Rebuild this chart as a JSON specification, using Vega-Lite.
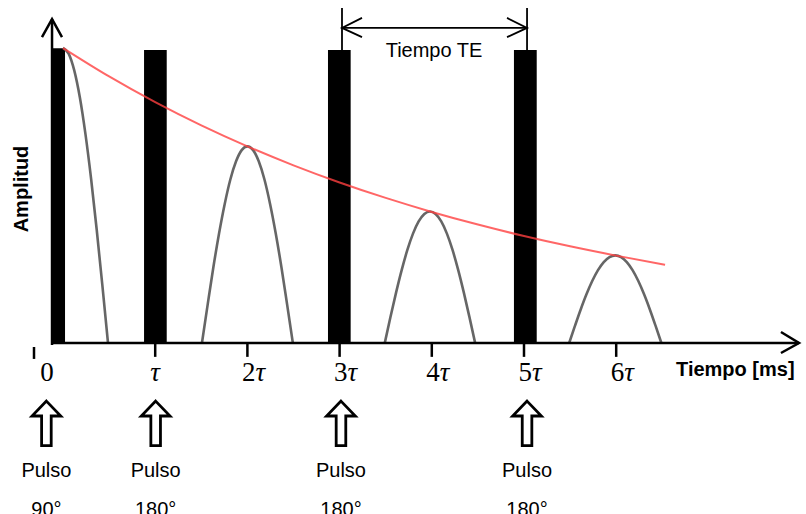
{
  "$schema": "https://vega.github.io/schema/vega-lite/v6.json",
  "width": 806,
  "height": 514,
  "autosize": "none",
  "padding": 0,
  "background": "white",
  "config": {"view": {"stroke": null}},
  "datasets": {
    "pulsos_rf": [
      {"pulso": "90°", "t0": -0.112, "t1": 0.022, "a0": 0, "a": 0.999},
      {"pulso": "180° (1)", "t0": 0.879, "t1": 1.125, "a0": 0, "a": 0.993},
      {"pulso": "180° (2)", "t0": 2.874, "t1": 3.12, "a0": 0, "a": 0.993},
      {"pulso": "180° (3)", "t0": 4.891, "t1": 5.138, "a0": 0, "a": 0.993}
    ],
    "decaimiento": [
      {"t": 0, "a": 1.0}, {"t": 0.5, "a": 0.9036}, {"t": 1, "a": 0.8164},
      {"t": 1.5, "a": 0.7377}, {"t": 2, "a": 0.6666}, {"t": 2.5, "a": 0.6023},
      {"t": 3, "a": 0.5442}, {"t": 3.5, "a": 0.4918}, {"t": 4, "a": 0.4443},
      {"t": 4.5, "a": 0.4015}, {"t": 5, "a": 0.3628}, {"t": 5.5, "a": 0.3278},
      {"t": 6, "a": 0.2962}, {"t": 6.53, "a": 0.2654}
    ],
    "senal": [
      {"grupo": "fid", "t": 0, "a": 1.0},
      {"grupo": "fid", "t": 0.061, "a": 0.981},
      {"grupo": "fid", "t": 0.122, "a": 0.924},
      {"grupo": "fid", "t": 0.183, "a": 0.832},
      {"grupo": "fid", "t": 0.244, "a": 0.707},
      {"grupo": "fid", "t": 0.305, "a": 0.556},
      {"grupo": "fid", "t": 0.366, "a": 0.383},
      {"grupo": "fid", "t": 0.427, "a": 0.195},
      {"grupo": "fid", "t": 0.488, "a": 0},

      {"grupo": "eco 2", "t": 1.507, "a": 0},
      {"grupo": "eco 2", "t": 1.569, "a": 0.1301},
      {"grupo": "eco 2", "t": 1.63, "a": 0.2551},
      {"grupo": "eco 2", "t": 1.692, "a": 0.3704},
      {"grupo": "eco 2", "t": 1.754, "a": 0.4714},
      {"grupo": "eco 2", "t": 1.815, "a": 0.5543},
      {"grupo": "eco 2", "t": 1.877, "a": 0.6159},
      {"grupo": "eco 2", "t": 1.938, "a": 0.6538},
      {"grupo": "eco 2", "t": 2.0, "a": 0.6666},
      {"grupo": "eco 2", "t": 2.062, "a": 0.6538},
      {"grupo": "eco 2", "t": 2.123, "a": 0.6159},
      {"grupo": "eco 2", "t": 2.185, "a": 0.5543},
      {"grupo": "eco 2", "t": 2.246, "a": 0.4714},
      {"grupo": "eco 2", "t": 2.308, "a": 0.3704},
      {"grupo": "eco 2", "t": 2.37, "a": 0.2551},
      {"grupo": "eco 2", "t": 2.431, "a": 0.1301},
      {"grupo": "eco 2", "t": 2.493, "a": 0},

      {"grupo": "eco 4", "t": 3.49, "a": 0},
      {"grupo": "eco 4", "t": 3.551, "a": 0.087},
      {"grupo": "eco 4", "t": 3.6125, "a": 0.1707},
      {"grupo": "eco 4", "t": 3.674, "a": 0.2478},
      {"grupo": "eco 4", "t": 3.735, "a": 0.3154},
      {"grupo": "eco 4", "t": 3.796, "a": 0.3708},
      {"grupo": "eco 4", "t": 3.8575, "a": 0.4121},
      {"grupo": "eco 4", "t": 3.919, "a": 0.4374},
      {"grupo": "eco 4", "t": 3.98, "a": 0.446},
      {"grupo": "eco 4", "t": 4.041, "a": 0.4374},
      {"grupo": "eco 4", "t": 4.1025, "a": 0.4121},
      {"grupo": "eco 4", "t": 4.164, "a": 0.3708},
      {"grupo": "eco 4", "t": 4.225, "a": 0.3154},
      {"grupo": "eco 4", "t": 4.286, "a": 0.2478},
      {"grupo": "eco 4", "t": 4.3475, "a": 0.1707},
      {"grupo": "eco 4", "t": 4.409, "a": 0.087},
      {"grupo": "eco 4", "t": 4.47, "a": 0},

      {"grupo": "eco 6", "t": 5.49, "a": 0},
      {"grupo": "eco 6", "t": 5.5525, "a": 0.0579},
      {"grupo": "eco 6", "t": 5.615, "a": 0.1137},
      {"grupo": "eco 6", "t": 5.6775, "a": 0.165},
      {"grupo": "eco 6", "t": 5.74, "a": 0.21},
      {"grupo": "eco 6", "t": 5.8025, "a": 0.247},
      {"grupo": "eco 6", "t": 5.865, "a": 0.2744},
      {"grupo": "eco 6", "t": 5.9275, "a": 0.2913},
      {"grupo": "eco 6", "t": 5.99, "a": 0.297},
      {"grupo": "eco 6", "t": 6.0525, "a": 0.2913},
      {"grupo": "eco 6", "t": 6.115, "a": 0.2744},
      {"grupo": "eco 6", "t": 6.1775, "a": 0.247},
      {"grupo": "eco 6", "t": 6.24, "a": 0.21},
      {"grupo": "eco 6", "t": 6.3025, "a": 0.165},
      {"grupo": "eco 6", "t": 6.365, "a": 0.1137},
      {"grupo": "eco 6", "t": 6.4275, "a": 0.0579},
      {"grupo": "eco 6", "t": 6.49, "a": 0}
    ],
    "trazos": [
      {"capa": "ejes", "grupo": "eje y", "k": 0, "t": -0.119, "a": -0.007},
      {"capa": "ejes", "grupo": "eje y", "k": 1, "t": -0.119, "a": 1.098},
      {"capa": "ejes", "grupo": "punta y", "k": 0, "t": -0.228, "a": 1.037},
      {"capa": "ejes", "grupo": "punta y", "k": 1, "t": -0.119, "a": 1.098},
      {"capa": "ejes", "grupo": "punta y", "k": 2, "t": -0.011, "a": 1.037},
      {"capa": "ejes", "grupo": "eje x", "k": 0, "t": -0.119, "a": 0},
      {"capa": "ejes", "grupo": "eje x", "k": 1, "t": 7.983, "a": 0},
      {"capa": "ejes", "grupo": "punta x", "k": 0, "t": 7.787, "a": 0.0373},
      {"capa": "ejes", "grupo": "punta x", "k": 1, "t": 7.983, "a": 0},
      {"capa": "ejes", "grupo": "punta x", "k": 2, "t": 7.787, "a": -0.0339},
      {"capa": "te", "grupo": "te izq", "k": 0, "t": 3.026, "a": 1.136},
      {"capa": "te", "grupo": "te izq", "k": 1, "t": 3.026, "a": 0.993},
      {"capa": "te", "grupo": "te der", "k": 0, "t": 5.033, "a": 1.136},
      {"capa": "te", "grupo": "te der", "k": 1, "t": 5.033, "a": 0.993},
      {"capa": "te", "grupo": "te cota", "k": 0, "t": 3.026, "a": 1.068},
      {"capa": "te", "grupo": "te cota", "k": 1, "t": 5.033, "a": 1.068},
      {"capa": "te", "grupo": "te punta izq", "k": 0, "t": 3.243, "a": 1.102},
      {"capa": "te", "grupo": "te punta izq", "k": 1, "t": 3.026, "a": 1.068},
      {"capa": "te", "grupo": "te punta izq", "k": 2, "t": 3.243, "a": 1.037},
      {"capa": "te", "grupo": "te punta der", "k": 0, "t": 4.816, "a": 1.102},
      {"capa": "te", "grupo": "te punta der", "k": 1, "t": 5.033, "a": 1.068},
      {"capa": "te", "grupo": "te punta der", "k": 2, "t": 4.816, "a": 1.037}
    ],
    "marcas": [
      {"t": -0.3145, "a0": -0.0136, "a1": -0.054, "num": "0"},
      {"t": 1, "a0": 0, "a1": -0.047, "num": ""},
      {"t": 2, "a0": 0, "a1": -0.047, "num": "2"},
      {"t": 3, "a0": 0, "a1": -0.047, "num": "3"},
      {"t": 4, "a0": 0, "a1": -0.047, "num": "4"},
      {"t": 5, "a0": 0, "a1": -0.047, "num": "5"},
      {"t": 6, "a0": 0, "a1": -0.047, "num": "6"}
    ],
    "excitacion": [
      {"t": -0.18, "linea1": "Pulso", "linea2": "90°"},
      {"t": 1.005, "linea1": "Pulso", "linea2": "180°"},
      {"t": 3.015, "linea1": "Pulso", "linea2": "180°"},
      {"t": 5.033, "linea1": "Pulso", "linea2": "180°"}
    ],
    "una_fila": [{}]
  },
  "layer": [
    {
      "data": {"name": "pulsos_rf"},
      "mark": {"type": "rect", "color": "black"},
      "encoding": {
        "x": {"field": "t0", "type": "quantitative", "scale": {"domain": [-0.6833, 8.0586], "nice": false, "zero": false}, "axis": null},
        "x2": {"field": "t1"},
        "y": {"field": "a0", "type": "quantitative", "scale": {"domain": [-0.57966, 1.16271], "nice": false, "zero": false}, "axis": null},
        "y2": {"field": "a"}
      }
    },
    {
      "data": {"name": "senal"},
      "mark": {"type": "line", "color": "#555555", "strokeWidth": 2.6, "opacity": 0.9, "interpolate": "monotone"},
      "encoding": {
        "x": {"field": "t", "type": "quantitative"},
        "y": {"field": "a", "type": "quantitative"},
        "detail": {"field": "grupo"}
      }
    },
    {
      "data": {"name": "decaimiento"},
      "mark": {"type": "line", "color": "#ff4040", "strokeWidth": 2, "opacity": 0.8, "interpolate": "monotone"},
      "encoding": {
        "x": {"field": "t", "type": "quantitative"},
        "y": {"field": "a", "type": "quantitative"}
      }
    },
    {
      "data": {"name": "trazos"},
      "transform": [{"filter": "datum.capa == 'ejes'"}],
      "mark": {"type": "line", "color": "black", "strokeWidth": 2.5},
      "encoding": {
        "x": {"field": "t", "type": "quantitative"},
        "y": {"field": "a", "type": "quantitative"},
        "detail": {"field": "grupo"},
        "order": {"field": "k"}
      }
    },
    {
      "data": {"name": "trazos"},
      "transform": [{"filter": "datum.capa == 'te'"}],
      "mark": {"type": "line", "color": "black", "strokeWidth": 1.8},
      "encoding": {
        "x": {"field": "t", "type": "quantitative"},
        "y": {"field": "a", "type": "quantitative"},
        "detail": {"field": "grupo"},
        "order": {"field": "k"}
      }
    },
    {
      "data": {"name": "marcas"},
      "mark": {"type": "rule", "color": "black", "strokeWidth": 2.5},
      "encoding": {
        "x": {"field": "t", "type": "quantitative"},
        "y": {"field": "a0", "type": "quantitative"},
        "y2": {"field": "a1"}
      }
    },
    {
      "data": {"name": "marcas"},
      "transform": [{"filter": "datum.num == '0'"}],
      "mark": {"type": "text", "font": "Liberation Serif", "fontSize": 27, "align": "center", "baseline": "alphabetic", "dx": 13},
      "encoding": {
        "x": {"field": "t", "type": "quantitative"},
        "y": {"datum": -0.129, "type": "quantitative"},
        "text": {"field": "num"}
      }
    },
    {
      "data": {"name": "marcas"},
      "transform": [{"filter": "datum.num == ''"}],
      "mark": {"type": "text", "text": "τ", "font": "Liberation Serif", "fontStyle": "italic", "fontSize": 27, "align": "center", "baseline": "alphabetic"},
      "encoding": {
        "x": {"field": "t", "type": "quantitative"},
        "y": {"datum": -0.129, "type": "quantitative"}
      }
    },
    {
      "data": {"name": "marcas"},
      "transform": [{"filter": "datum.num != '' && datum.num != '0'"}],
      "mark": {"type": "text", "font": "Liberation Serif", "fontSize": 27, "align": "right", "baseline": "alphabetic", "dx": 8},
      "encoding": {
        "x": {"field": "t", "type": "quantitative"},
        "y": {"datum": -0.129, "type": "quantitative"},
        "text": {"field": "num"}
      }
    },
    {
      "data": {"name": "marcas"},
      "transform": [{"filter": "datum.num != '' && datum.num != '0'"}],
      "mark": {"type": "text", "text": "τ", "font": "Liberation Serif", "fontStyle": "italic", "fontSize": 27, "align": "left", "baseline": "alphabetic", "dx": 8},
      "encoding": {
        "x": {"field": "t", "type": "quantitative"},
        "y": {"datum": -0.129, "type": "quantitative"}
      }
    },
    {
      "data": {"name": "excitacion"},
      "mark": {
        "type": "point",
        "shape": "M0,-1.4L0.9,-0.47L0.3,-0.47L0.3,1.38L-0.3,1.38L-0.3,-0.47L-0.9,-0.47Z",
        "size": 1024,
        "filled": true,
        "fill": "white",
        "stroke": "black",
        "strokeWidth": 2.8,
        "opacity": 1
      },
      "encoding": {
        "x": {"field": "t", "type": "quantitative"},
        "y": {"datum": -0.2729, "type": "quantitative"}
      }
    },
    {
      "data": {"name": "excitacion"},
      "mark": {"type": "text", "font": "Liberation Sans", "fontSize": 20, "align": "center", "baseline": "alphabetic"},
      "encoding": {
        "x": {"field": "t", "type": "quantitative"},
        "y": {"datum": -0.4542, "type": "quantitative"},
        "text": {"field": "linea1"}
      }
    },
    {
      "data": {"name": "excitacion"},
      "mark": {"type": "text", "font": "Liberation Sans", "fontSize": 20, "align": "center", "baseline": "alphabetic"},
      "encoding": {
        "x": {"field": "t", "type": "quantitative"},
        "y": {"datum": -0.5864, "type": "quantitative"},
        "text": {"field": "linea2"}
      }
    },
    {
      "data": {"name": "una_fila"},
      "mark": {"type": "text", "text": "Tiempo [ms]", "font": "Liberation Sans", "fontWeight": "bold", "fontSize": 20, "align": "left", "baseline": "alphabetic"},
      "encoding": {
        "x": {"datum": 6.649, "type": "quantitative"},
        "y": {"datum": -0.112, "type": "quantitative"}
      }
    },
    {
      "data": {"name": "una_fila"},
      "mark": {"type": "text", "text": "Amplitud", "font": "Liberation Sans", "fontWeight": "bold", "fontSize": 20, "angle": 270, "align": "center", "baseline": "middle"},
      "encoding": {
        "x": {"datum": -0.445, "type": "quantitative"},
        "y": {"datum": 0.522, "type": "quantitative"}
      }
    },
    {
      "data": {"name": "una_fila"},
      "mark": {"type": "text", "text": "Tiempo TE", "font": "Liberation Sans", "fontSize": 20, "align": "center", "baseline": "alphabetic"},
      "encoding": {
        "x": {"datum": 4.024, "type": "quantitative"},
        "y": {"datum": 0.968, "type": "quantitative"}
      }
    }
  ]
}
